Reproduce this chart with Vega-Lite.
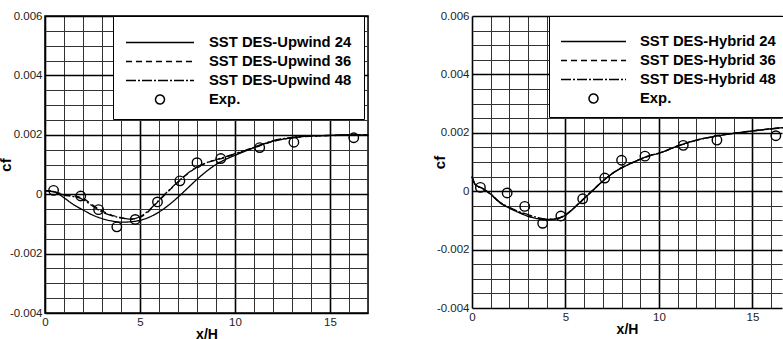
{
  "$schema": "https://vega.github.io/schema/vega-lite/v6.json",
  "background": "white",
  "padding": {"left": -3, "top": 9, "right": 0, "bottom": 0},
  "spacing": 60,
  "datasets": {
    "exp": [
      {"x": 0.45, "cf": 0.00013}, {"x": 1.88, "cf": -0.00006}, {"x": 2.82, "cf": -0.00052},
      {"x": 3.78, "cf": -0.0011}, {"x": 4.75, "cf": -0.00085}, {"x": 5.92, "cf": -0.00026},
      {"x": 7.1, "cf": 0.00045}, {"x": 8.0, "cf": 0.00106}, {"x": 9.25, "cf": 0.0012},
      {"x": 11.3, "cf": 0.00157}, {"x": 13.1, "cf": 0.00175}, {"x": 16.25, "cf": 0.0019}
    ],
    "upwind": [
      {"s": "SST DES-Upwind 24", "x": 0, "cf": 0.00012}, {"s": "SST DES-Upwind 24", "x": 0.5, "cf": 0.00008},
      {"s": "SST DES-Upwind 24", "x": 1, "cf": -0.00012}, {"s": "SST DES-Upwind 24", "x": 1.5, "cf": -0.00035},
      {"s": "SST DES-Upwind 24", "x": 2, "cf": -0.00053}, {"s": "SST DES-Upwind 24", "x": 2.5, "cf": -0.0007},
      {"s": "SST DES-Upwind 24", "x": 3, "cf": -0.00082}, {"s": "SST DES-Upwind 24", "x": 3.5, "cf": -0.0009},
      {"s": "SST DES-Upwind 24", "x": 4, "cf": -0.00094}, {"s": "SST DES-Upwind 24", "x": 4.5, "cf": -0.00093},
      {"s": "SST DES-Upwind 24", "x": 5, "cf": -0.00088}, {"s": "SST DES-Upwind 24", "x": 5.5, "cf": -0.00077},
      {"s": "SST DES-Upwind 24", "x": 6, "cf": -0.0006}, {"s": "SST DES-Upwind 24", "x": 6.5, "cf": -0.00037},
      {"s": "SST DES-Upwind 24", "x": 7, "cf": -0.0001}, {"s": "SST DES-Upwind 24", "x": 7.5, "cf": 0.0002},
      {"s": "SST DES-Upwind 24", "x": 8, "cf": 0.0005}, {"s": "SST DES-Upwind 24", "x": 8.5, "cf": 0.00077},
      {"s": "SST DES-Upwind 24", "x": 9, "cf": 0.001}, {"s": "SST DES-Upwind 24", "x": 9.5, "cf": 0.00117},
      {"s": "SST DES-Upwind 24", "x": 10, "cf": 0.00131}, {"s": "SST DES-Upwind 24", "x": 10.5, "cf": 0.00144},
      {"s": "SST DES-Upwind 24", "x": 11, "cf": 0.00157}, {"s": "SST DES-Upwind 24", "x": 12, "cf": 0.00178},
      {"s": "SST DES-Upwind 24", "x": 13, "cf": 0.0019}, {"s": "SST DES-Upwind 24", "x": 14, "cf": 0.00196},
      {"s": "SST DES-Upwind 24", "x": 15, "cf": 0.00198}, {"s": "SST DES-Upwind 24", "x": 16, "cf": 0.002},
      {"s": "SST DES-Upwind 24", "x": 17, "cf": 0.002},
      {"s": "SST DES-Upwind 36", "x": 0, "cf": 0.00012}, {"s": "SST DES-Upwind 36", "x": 0.5, "cf": 0.00008},
      {"s": "SST DES-Upwind 36", "x": 1, "cf": -0.00001}, {"s": "SST DES-Upwind 36", "x": 1.5, "cf": -0.00005},
      {"s": "SST DES-Upwind 36", "x": 2, "cf": -0.00014}, {"s": "SST DES-Upwind 36", "x": 2.5, "cf": -0.00036},
      {"s": "SST DES-Upwind 36", "x": 3, "cf": -0.00056}, {"s": "SST DES-Upwind 36", "x": 3.5, "cf": -0.0007},
      {"s": "SST DES-Upwind 36", "x": 4, "cf": -0.00079}, {"s": "SST DES-Upwind 36", "x": 4.5, "cf": -0.00084},
      {"s": "SST DES-Upwind 36", "x": 5, "cf": -0.00078}, {"s": "SST DES-Upwind 36", "x": 5.5, "cf": -0.00055},
      {"s": "SST DES-Upwind 36", "x": 6, "cf": -0.00022}, {"s": "SST DES-Upwind 36", "x": 6.5, "cf": 0.0001},
      {"s": "SST DES-Upwind 36", "x": 7, "cf": 0.0004}, {"s": "SST DES-Upwind 36", "x": 7.5, "cf": 0.00068},
      {"s": "SST DES-Upwind 36", "x": 8, "cf": 0.0009}, {"s": "SST DES-Upwind 36", "x": 8.5, "cf": 0.00105},
      {"s": "SST DES-Upwind 36", "x": 9, "cf": 0.00115}, {"s": "SST DES-Upwind 36", "x": 9.5, "cf": 0.00124},
      {"s": "SST DES-Upwind 36", "x": 10, "cf": 0.00135}, {"s": "SST DES-Upwind 36", "x": 10.5, "cf": 0.00145},
      {"s": "SST DES-Upwind 36", "x": 11, "cf": 0.00156}, {"s": "SST DES-Upwind 36", "x": 12, "cf": 0.00178},
      {"s": "SST DES-Upwind 36", "x": 13, "cf": 0.0019}, {"s": "SST DES-Upwind 36", "x": 14, "cf": 0.00195},
      {"s": "SST DES-Upwind 36", "x": 15, "cf": 0.00197}, {"s": "SST DES-Upwind 36", "x": 16, "cf": 0.00199},
      {"s": "SST DES-Upwind 36", "x": 17, "cf": 0.002},
      {"s": "SST DES-Upwind 48", "x": 0, "cf": 0.00012}, {"s": "SST DES-Upwind 48", "x": 0.5, "cf": 0.00007},
      {"s": "SST DES-Upwind 48", "x": 1, "cf": -0.00003}, {"s": "SST DES-Upwind 48", "x": 1.5, "cf": -0.00008},
      {"s": "SST DES-Upwind 48", "x": 2, "cf": -0.00018}, {"s": "SST DES-Upwind 48", "x": 2.5, "cf": -0.0004},
      {"s": "SST DES-Upwind 48", "x": 3, "cf": -0.0006}, {"s": "SST DES-Upwind 48", "x": 3.5, "cf": -0.00072},
      {"s": "SST DES-Upwind 48", "x": 4, "cf": -0.0008}, {"s": "SST DES-Upwind 48", "x": 4.5, "cf": -0.00084},
      {"s": "SST DES-Upwind 48", "x": 5, "cf": -0.00076}, {"s": "SST DES-Upwind 48", "x": 5.5, "cf": -0.00052},
      {"s": "SST DES-Upwind 48", "x": 6, "cf": -0.0002}, {"s": "SST DES-Upwind 48", "x": 6.5, "cf": 0.00012},
      {"s": "SST DES-Upwind 48", "x": 7, "cf": 0.00042}, {"s": "SST DES-Upwind 48", "x": 7.5, "cf": 0.0007},
      {"s": "SST DES-Upwind 48", "x": 8, "cf": 0.00092}, {"s": "SST DES-Upwind 48", "x": 8.5, "cf": 0.00106},
      {"s": "SST DES-Upwind 48", "x": 9, "cf": 0.00116}, {"s": "SST DES-Upwind 48", "x": 9.5, "cf": 0.00126},
      {"s": "SST DES-Upwind 48", "x": 10, "cf": 0.00137}, {"s": "SST DES-Upwind 48", "x": 10.5, "cf": 0.00147},
      {"s": "SST DES-Upwind 48", "x": 11, "cf": 0.00158}, {"s": "SST DES-Upwind 48", "x": 12, "cf": 0.0018},
      {"s": "SST DES-Upwind 48", "x": 13, "cf": 0.00191}, {"s": "SST DES-Upwind 48", "x": 14, "cf": 0.00196},
      {"s": "SST DES-Upwind 48", "x": 15, "cf": 0.00198}, {"s": "SST DES-Upwind 48", "x": 16, "cf": 0.002},
      {"s": "SST DES-Upwind 48", "x": 17, "cf": 0.002}
    ],
    "hybrid": [
      {"s": "SST DES-Hybrid 24", "x": 0, "cf": 0.0005}, {"s": "SST DES-Hybrid 24", "x": 0.15, "cf": 0.00025},
      {"s": "SST DES-Hybrid 24", "x": 0.3, "cf": 0.00017}, {"s": "SST DES-Hybrid 24", "x": 0.5, "cf": 0.00012},
      {"s": "SST DES-Hybrid 24", "x": 1, "cf": -0.0001}, {"s": "SST DES-Hybrid 24", "x": 1.5, "cf": -0.0004},
      {"s": "SST DES-Hybrid 24", "x": 2, "cf": -0.00058}, {"s": "SST DES-Hybrid 24", "x": 2.5, "cf": -0.00073},
      {"s": "SST DES-Hybrid 24", "x": 3, "cf": -0.00086}, {"s": "SST DES-Hybrid 24", "x": 3.5, "cf": -0.00094},
      {"s": "SST DES-Hybrid 24", "x": 4, "cf": -0.00098}, {"s": "SST DES-Hybrid 24", "x": 4.5, "cf": -0.00095},
      {"s": "SST DES-Hybrid 24", "x": 5, "cf": -0.00082}, {"s": "SST DES-Hybrid 24", "x": 5.5, "cf": -0.00055},
      {"s": "SST DES-Hybrid 24", "x": 6, "cf": -0.00025}, {"s": "SST DES-Hybrid 24", "x": 6.5, "cf": 0.00005},
      {"s": "SST DES-Hybrid 24", "x": 7, "cf": 0.00035}, {"s": "SST DES-Hybrid 24", "x": 7.5, "cf": 0.0006},
      {"s": "SST DES-Hybrid 24", "x": 8, "cf": 0.0008}, {"s": "SST DES-Hybrid 24", "x": 8.5, "cf": 0.00095},
      {"s": "SST DES-Hybrid 24", "x": 9, "cf": 0.0011}, {"s": "SST DES-Hybrid 24", "x": 9.5, "cf": 0.00122},
      {"s": "SST DES-Hybrid 24", "x": 10, "cf": 0.0013}, {"s": "SST DES-Hybrid 24", "x": 11, "cf": 0.00155},
      {"s": "SST DES-Hybrid 24", "x": 12, "cf": 0.00175}, {"s": "SST DES-Hybrid 24", "x": 13, "cf": 0.00188},
      {"s": "SST DES-Hybrid 24", "x": 14, "cf": 0.00198}, {"s": "SST DES-Hybrid 24", "x": 15, "cf": 0.00206},
      {"s": "SST DES-Hybrid 24", "x": 16, "cf": 0.00214}, {"s": "SST DES-Hybrid 24", "x": 17, "cf": 0.0022},
      {"s": "SST DES-Hybrid 36", "x": 0, "cf": 0.0005}, {"s": "SST DES-Hybrid 36", "x": 0.15, "cf": 0.00026},
      {"s": "SST DES-Hybrid 36", "x": 0.3, "cf": 0.00017}, {"s": "SST DES-Hybrid 36", "x": 0.5, "cf": 0.00011},
      {"s": "SST DES-Hybrid 36", "x": 1, "cf": -0.00011}, {"s": "SST DES-Hybrid 36", "x": 1.5, "cf": -0.00039},
      {"s": "SST DES-Hybrid 36", "x": 2, "cf": -0.00057}, {"s": "SST DES-Hybrid 36", "x": 2.5, "cf": -0.00072},
      {"s": "SST DES-Hybrid 36", "x": 3, "cf": -0.00085}, {"s": "SST DES-Hybrid 36", "x": 3.5, "cf": -0.00093},
      {"s": "SST DES-Hybrid 36", "x": 4, "cf": -0.00097}, {"s": "SST DES-Hybrid 36", "x": 4.5, "cf": -0.00094},
      {"s": "SST DES-Hybrid 36", "x": 5, "cf": -0.00081}, {"s": "SST DES-Hybrid 36", "x": 5.5, "cf": -0.00054},
      {"s": "SST DES-Hybrid 36", "x": 6, "cf": -0.00024}, {"s": "SST DES-Hybrid 36", "x": 6.5, "cf": 0.00006},
      {"s": "SST DES-Hybrid 36", "x": 7, "cf": 0.00036}, {"s": "SST DES-Hybrid 36", "x": 7.5, "cf": 0.00061},
      {"s": "SST DES-Hybrid 36", "x": 8, "cf": 0.00081}, {"s": "SST DES-Hybrid 36", "x": 8.5, "cf": 0.00096},
      {"s": "SST DES-Hybrid 36", "x": 9, "cf": 0.0011}, {"s": "SST DES-Hybrid 36", "x": 9.5, "cf": 0.00122},
      {"s": "SST DES-Hybrid 36", "x": 10, "cf": 0.0013}, {"s": "SST DES-Hybrid 36", "x": 11, "cf": 0.00155},
      {"s": "SST DES-Hybrid 36", "x": 12, "cf": 0.00175}, {"s": "SST DES-Hybrid 36", "x": 13, "cf": 0.00189},
      {"s": "SST DES-Hybrid 36", "x": 14, "cf": 0.00199}, {"s": "SST DES-Hybrid 36", "x": 15, "cf": 0.00207},
      {"s": "SST DES-Hybrid 36", "x": 16, "cf": 0.00214}, {"s": "SST DES-Hybrid 36", "x": 17, "cf": 0.0022},
      {"s": "SST DES-Hybrid 48", "x": 0, "cf": 0.00049}, {"s": "SST DES-Hybrid 48", "x": 0.15, "cf": 0.00025},
      {"s": "SST DES-Hybrid 48", "x": 0.3, "cf": 0.00016}, {"s": "SST DES-Hybrid 48", "x": 0.5, "cf": 0.00011},
      {"s": "SST DES-Hybrid 48", "x": 1, "cf": -0.0001}, {"s": "SST DES-Hybrid 48", "x": 1.5, "cf": -0.00038},
      {"s": "SST DES-Hybrid 48", "x": 2, "cf": -0.00055}, {"s": "SST DES-Hybrid 48", "x": 2.5, "cf": -0.0007},
      {"s": "SST DES-Hybrid 48", "x": 3, "cf": -0.0008}, {"s": "SST DES-Hybrid 48", "x": 3.5, "cf": -0.0009},
      {"s": "SST DES-Hybrid 48", "x": 4, "cf": -0.00096}, {"s": "SST DES-Hybrid 48", "x": 4.5, "cf": -0.00094},
      {"s": "SST DES-Hybrid 48", "x": 5, "cf": -0.00082}, {"s": "SST DES-Hybrid 48", "x": 5.5, "cf": -0.00055},
      {"s": "SST DES-Hybrid 48", "x": 6, "cf": -0.00025}, {"s": "SST DES-Hybrid 48", "x": 6.5, "cf": 0.00005},
      {"s": "SST DES-Hybrid 48", "x": 7, "cf": 0.00035}, {"s": "SST DES-Hybrid 48", "x": 7.5, "cf": 0.0006},
      {"s": "SST DES-Hybrid 48", "x": 8, "cf": 0.0008}, {"s": "SST DES-Hybrid 48", "x": 8.5, "cf": 0.00095},
      {"s": "SST DES-Hybrid 48", "x": 9, "cf": 0.00109}, {"s": "SST DES-Hybrid 48", "x": 9.5, "cf": 0.00121},
      {"s": "SST DES-Hybrid 48", "x": 10, "cf": 0.0013}, {"s": "SST DES-Hybrid 48", "x": 11, "cf": 0.00154},
      {"s": "SST DES-Hybrid 48", "x": 12, "cf": 0.00174}, {"s": "SST DES-Hybrid 48", "x": 13, "cf": 0.00188},
      {"s": "SST DES-Hybrid 48", "x": 14, "cf": 0.00198}, {"s": "SST DES-Hybrid 48", "x": 15, "cf": 0.00206},
      {"s": "SST DES-Hybrid 48", "x": 16, "cf": 0.00213}, {"s": "SST DES-Hybrid 48", "x": 17, "cf": 0.00219}
    ]
  },
  "config": {
    "view": {"stroke": "black", "strokeWidth": 1.5},
    "axis": {
      "labelFont": "Liberation Sans", "labelFontSize": 11.5, "labelColor": "#222",
      "titleFont": "Liberation Sans", "titleFontWeight": "bold", "titleFontSize": 15, "titleColor": "black",
      "ticks": false, "tickSize": 0, "domain": false, "grid": true, "labelOverlap": false, "labelFlush": false, "labelBound": false
    },
    "legend": {
      "labelFont": "Liberation Sans", "labelFontSize": 14.8, "labelFontWeight": "bold", "labelColor": "black",
      "titleFontSize": 6
    }
  },
  "resolve": {"scale": {"strokeDash": "independent"}, "legend": {"strokeDash": "independent"}},
  "hconcat": [
    {
      "width": 323,
      "height": 297,
      "encoding": {
        "x": {"field": "x", "type": "quantitative", "title": "x/H",
          "scale": {"domain": [0, 17], "nice": false, "zero": false},
          "axis": {"values": [0,1,2,3,4,5,6,7,8,9,10,11,12,13,14,15,16,17],
            "labelExpr": "datum.value % 5 === 0 ? datum.label : ''", "labelOverlap": false,
            "gridColor": {"condition": {"test": "datum.value % 5 === 0", "value": "black"}, "value": "#333"},
            "gridWidth": {"condition": {"test": "datum.value % 5 === 0", "value": 1.6}, "value": 1},
            "labelPadding": 3, "titleFontSize": 14, "titleY": 14, "titleBaseline": "top"}},
        "y": {"field": "cf", "type": "quantitative", "title": "cf",
          "scale": {"domain": [-0.004, 0.006], "nice": false, "zero": false},
          "axis": {"values": [-0.004,-0.0035,-0.003,-0.0025,-0.002,-0.0015,-0.001,-0.0005,0,0.0005,0.001,0.0015,0.002,0.0025,0.003,0.0035,0.004,0.0045,0.005,0.0055,0.006],
            "labelExpr": "round(datum.value*2000) % 4 === 0 ? ('' + datum.value) : ''", "labelOverlap": false,
            "gridColor": {"condition": {"test": "round(datum.value*2000) % 4 === 0", "value": "black"}, "value": "#333"},
            "gridWidth": {"condition": {"test": "round(datum.value*2000) % 4 === 0", "value": 1.6}, "value": 1},
            "labelPadding": 3, "titleX": -31.5, "titleAngle": -90}}
      },
      "layer": [
        {
          "data": {"name": "upwind"},
          "mark": {"type": "line", "color": "black", "strokeWidth": 1.3, "interpolate": "monotone"},
          "encoding": {
            "strokeDash": {"field": "s", "type": "nominal",
              "scale": {"domain": ["SST DES-Upwind 24", "SST DES-Upwind 36", "SST DES-Upwind 48", "Exp."],
                        "range": [[1, 0], [6, 4], [10, 2, 2, 2], [1, 0]]},
              "legend": {"orient": "none", "legendX": 68, "legendY": 0, "title": " ", "titlePadding": 1,
                "symbolType": "stroke", "symbolSize": 4624, "symbolStrokeWidth": 1.5, "symbolStrokeColor": "black",
                "labelOffset": 14, "labelLimit": 300, "clipHeight": 15, "rowPadding": 3,
                "padding": 12, "fillColor": "white", "strokeColor": "black",
                "encode": {"symbols": {"update": {
                  "shape": {"signal": "datum.value === 'Exp.' ? 'circle' : 'stroke'"},
                  "size": {"signal": "datum.value === 'Exp.' ? 80 : 4624"},
                  "fill": {"value": "transparent"},
                  "stroke": {"value": "black"},
                  "strokeWidth": {"value": 1.5}}}}}}
          }
        },
        {
          "data": {"name": "exp"},
          "mark": {"type": "point", "shape": "circle", "size": 90, "color": "black", "strokeWidth": 1.4, "filled": false, "opacity": 1}
        }
      ]
    },
    {
      "width": 310,
      "height": 292,
      "view": {"stroke": null},
      "encoding": {
        "x": {"field": "x", "type": "quantitative", "title": "x/H",
          "scale": {"domain": [0, 16.58], "nice": false, "zero": false},
          "axis": {"values": [0,1,2,3,4,5,6,7,8,9,10,11,12,13,14,15,16],
            "labelExpr": "datum.value % 5 === 0 ? datum.label : ''", "labelOverlap": false,
            "gridColor": {"condition": {"test": "datum.value % 5 === 0", "value": "black"}, "value": "#333"},
            "gridWidth": {"condition": {"test": "datum.value % 5 === 0", "value": 1.6}, "value": 1},
            "labelPadding": 3, "titleFontSize": 14, "titleY": 14, "titleBaseline": "top"}},
        "y": {"field": "cf", "type": "quantitative", "title": "cf",
          "scale": {"domain": [-0.004, 0.006], "nice": false, "zero": false},
          "axis": {"values": [-0.004,-0.0035,-0.003,-0.0025,-0.002,-0.0015,-0.001,-0.0005,0,0.0005,0.001,0.0015,0.002,0.0025,0.003,0.0035,0.004,0.0045,0.005,0.0055,0.006],
            "labelExpr": "round(datum.value*2000) % 4 === 0 ? ('' + datum.value) : ''", "labelOverlap": false,
            "gridColor": {"condition": {"test": "round(datum.value*2000) % 4 === 0", "value": "black"}, "value": "#333"},
            "gridWidth": {"condition": {"test": "round(datum.value*2000) % 4 === 0", "value": 1.6}, "value": 1},
            "labelPadding": 3, "titleX": -25, "titleAngle": -90}}
      },
      "layer": [
        {
          "data": {"name": "hybrid"},
          "mark": {"type": "line", "color": "black", "strokeWidth": 1.3, "interpolate": "monotone"},
          "encoding": {
            "strokeDash": {"field": "s", "type": "nominal",
              "scale": {"domain": ["SST DES-Hybrid 24", "SST DES-Hybrid 36", "SST DES-Hybrid 48", "Exp."],
                        "range": [[1, 0], [6, 4], [10, 2, 2, 2], [1, 0]]},
              "legend": {"orient": "none", "legendX": 77, "legendY": 0, "title": " ", "titlePadding": 1,
                "symbolType": "stroke", "symbolSize": 4225, "symbolStrokeWidth": 1.5, "symbolStrokeColor": "black",
                "labelOffset": 13, "labelLimit": 300, "clipHeight": 15, "rowPadding": 3,
                "padding": 11, "fillColor": "white", "strokeColor": "black",
                "encode": {"symbols": {"update": {
                  "shape": {"signal": "datum.value === 'Exp.' ? 'circle' : 'stroke'"},
                  "size": {"signal": "datum.value === 'Exp.' ? 80 : 4225"},
                  "fill": {"value": "transparent"},
                  "stroke": {"value": "black"},
                  "strokeWidth": {"value": 1.5}}}}}}
          }
        },
        {
          "data": {"name": "exp"},
          "mark": {"type": "point", "shape": "circle", "size": 90, "color": "black", "strokeWidth": 1.4, "filled": false, "opacity": 1}
        }
      ]
    }
  ]
}
